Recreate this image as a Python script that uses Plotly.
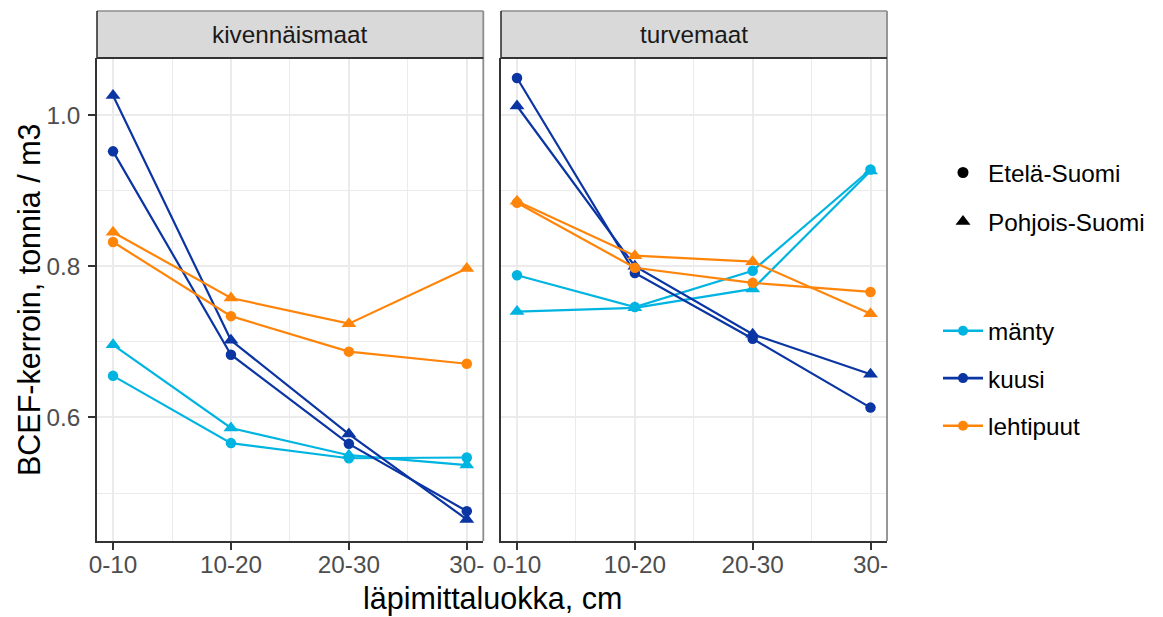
import plotly.graph_objects as go
from plotly.subplots import make_subplots

# ---------------- data ----------------
categories = ["0-10", "10-20", "20-30", "30-"]
soils = ["kivennäismaat", "turvemaat"]
species = ["mänty", "kuusi", "lehtipuut"]
regions = ["Etelä-Suomi", "Pohjois-Suomi"]

# kivennäismaat
kiv_manty_etela = [0.655, 0.566, 0.546, 0.547]
kiv_manty_pohjois = [0.696, 0.586, 0.550, 0.537]
kiv_kuusi_etela = [0.952, 0.683, 0.565, 0.476]
kiv_kuusi_pohjois = [1.026, 0.702, 0.578, 0.465]
kiv_lehti_etela = [0.832, 0.734, 0.687, 0.671]
kiv_lehti_pohjois = [0.845, 0.758, 0.724, 0.797]
# turvemaat
tur_manty_etela = [0.788, 0.746, 0.794, 0.928]
tur_manty_pohjois = [0.740, 0.745, 0.770, 0.926]
tur_kuusi_etela = [1.049, 0.791, 0.704, 0.613]
tur_kuusi_pohjois = [1.012, 0.800, 0.710, 0.657]
tur_lehti_etela = [0.884, 0.798, 0.778, 0.766]
tur_lehti_pohjois = [0.886, 0.814, 0.806, 0.737]

data = {
    ("kivennäismaat", "mänty", "Etelä-Suomi"): kiv_manty_etela,
    ("kivennäismaat", "mänty", "Pohjois-Suomi"): kiv_manty_pohjois,
    ("kivennäismaat", "kuusi", "Etelä-Suomi"): kiv_kuusi_etela,
    ("kivennäismaat", "kuusi", "Pohjois-Suomi"): kiv_kuusi_pohjois,
    ("kivennäismaat", "lehtipuut", "Etelä-Suomi"): kiv_lehti_etela,
    ("kivennäismaat", "lehtipuut", "Pohjois-Suomi"): kiv_lehti_pohjois,
    ("turvemaat", "mänty", "Etelä-Suomi"): tur_manty_etela,
    ("turvemaat", "mänty", "Pohjois-Suomi"): tur_manty_pohjois,
    ("turvemaat", "kuusi", "Etelä-Suomi"): tur_kuusi_etela,
    ("turvemaat", "kuusi", "Pohjois-Suomi"): tur_kuusi_pohjois,
    ("turvemaat", "lehtipuut", "Etelä-Suomi"): tur_lehti_etela,
    ("turvemaat", "lehtipuut", "Pohjois-Suomi"): tur_lehti_pohjois,
}

colors = {"mänty": "#00B4E1", "kuusi": "#0A35A3", "lehtipuut": "#FF850A"}
symbols = {"Etelä-Suomi": "circle", "Pohjois-Suomi": "triangle-up"}
msizes = {"Etelä-Suomi": 10.5, "Pohjois-Suomi": 13}

FONT = "Liberation Sans, Arial, sans-serif"
FS = 24.3   # tick / strip / legend text
FT = 30.5   # axis titles

# page body has an 8px margin: figure origin sits at (8, 8) on screen
OFF = 8
W, H = 1163 - 2 * OFF, 617 - OFF
ML = 97 - OFF
MT = 58 - OFF
PW = 790
PH = 483
MR = W - ML - PW
MB = H - MT - PH


def sx(px):  # screen x pixel -> paper
    return (px - OFF - ML) / PW


def sy(py):  # screen y pixel -> paper
    return (MT + PH - (py - OFF)) / PH


fig = make_subplots(rows=1, cols=2, shared_yaxes=True, horizontal_spacing=0.02)

xpos = list(range(len(categories)))
for ci, soil in enumerate(soils):
    for sp in species:
        for rg in regions:
            fig.add_trace(
                go.Scatter(
                    x=xpos,
                    y=data[(soil, sp, rg)],
                    mode="lines+markers",
                    line=dict(color=colors[sp], width=2.2),
                    marker=dict(symbol=symbols[rg], size=msizes[rg], color=colors[sp]),
                    showlegend=False,
                    name=f"{sp} {rg}",
                ),
                row=1, col=ci + 1,
            )

# legend entries (one small legend per entry, to match spacing)
legend_names = ["legend", "legend2", "legend3", "legend4", "legend5"]
entries = [
    ("Etelä-Suomi", "markers", "black", "circle", 11),
    ("Pohjois-Suomi", "markers", "black", "triangle-up", 13),
    ("mänty", "lines+markers", colors["mänty"], "circle", 10),
    ("kuusi", "lines+markers", colors["kuusi"], "circle", 10),
    ("lehtipuut", "lines+markers", colors["lehtipuut"], "circle", 10),
]
for (nm, mode, col, sym, sz), lg in zip(entries, legend_names):
    fig.add_trace(
        go.Scatter(
            x=[None], y=[None], mode=mode, name=nm,
            line=dict(color=col, width=2.6),
            marker=dict(symbol=sym, size=sz, color=col),
            showlegend=True, legend=lg,
        ),
        row=1, col=1,
    )

legend_centers = [172.7, 221.7, 331, 378.3, 426]
leg_left_px = 938
for lg, yc in zip(legend_names, legend_centers):
    fig.update_layout({
        lg: dict(
            x=sx(leg_left_px), xanchor="left",
            y=sy(yc), yanchor="middle",
            bgcolor="rgba(0,0,0,0)", borderwidth=0,
            font=dict(family=FONT, size=FS, color="black"),
            itemwidth=40,
        )
    })

grid = "#EBEBEB"
dark = "#333333"
common_x = dict(
    range=[-0.136, 3.14],
    tickmode="array", tickvals=xpos, ticktext=categories,
    showgrid=True, gridcolor=grid, gridwidth=1.8,
    minor=dict(tickvals=[0.5, 1.5, 2.5], showgrid=True, gridcolor=grid, gridwidth=1.1),
    ticks="outside", ticklen=7, tickwidth=2, tickcolor=dark,
    showline=True, linecolor=dark, linewidth=1.6,
    zeroline=False, automargin=False,
    tickfont=dict(family=FONT, size=FS, color="#4D4D4D"),
)
fig.update_xaxes(**common_x)
try:
    fig.update_xaxes(ticklabelstandoff=-6)
except Exception:
    pass
fig.update_layout(
    xaxis=dict(domain=[0, (483.3 - 97) / PW]),
    xaxis2=dict(domain=[(501 - 97) / PW, 1]),
)
yt = [0.6, 0.8, 1.0]
fig.update_yaxes(
    range=[0.4365, 1.0755],
    tickmode="array", tickvals=yt, ticktext=[f"{v:.1f}" for v in yt],
    showgrid=True, gridcolor=grid, gridwidth=1.8,
    minor=dict(tickvals=[0.5, 0.7, 0.9], showgrid=True, gridcolor=grid, gridwidth=1.1),
    showline=True, linecolor=dark, linewidth=1.6,
    zeroline=False, automargin=False,
    tickfont=dict(family=FONT, size=FS, color="#4D4D4D"),
)
fig.update_yaxes(ticks="outside", ticklen=7, tickwidth=2, tickcolor=dark,
                 ticklabelstandoff=3, row=1, col=1)
fig.update_yaxes(ticks="", showticklabels=False, row=1, col=2)

# panel borders (top/right) and strips
strip_h = 47 / PH
shapes = []
annotations = []
for xr, yr, soil in [("x domain", "y domain", soils[0]), ("x2 domain", "y2 domain", soils[1])]:
    shapes.append(dict(type="rect", xref=xr, yref=yr, x0=0, x1=1, y0=1, y1=1 + strip_h,
                       fillcolor="#D9D9D9", line=dict(width=0), layer="below"))
    shapes.append(dict(type="line", xref=xr, yref=yr, x0=0, x1=1, y0=1 + strip_h, y1=1 + strip_h,
                       line=dict(color="#8C8C8C", width=1.6)))
    shapes.append(dict(type="line", xref=xr, yref=yr, x0=0, x1=0, y0=1, y1=1 + strip_h,
                       line=dict(color=dark, width=1.6)))
    shapes.append(dict(type="line", xref=xr, yref=yr, x0=1, x1=1, y0=0, y1=1 + strip_h,
                       line=dict(color="#8C8C8C", width=1.8)))
    shapes.append(dict(type="line", xref=xr, yref=yr, x0=0, x1=1, y0=1, y1=1,
                       line=dict(color=dark, width=2)))
    annotations.append(dict(xref=xr, yref=yr, x=0.5, y=1 + strip_h / 2, text=soil, showarrow=False,
                            xanchor="center", yanchor="middle",
                            font=dict(family=FONT, size=FS, color="#1A1A1A")))

annotations.append(dict(xref="paper", yref="paper", x=sx(492), y=sy(598),
                        text="läpimittaluokka, cm", showarrow=False, xanchor="center", yanchor="middle",
                        font=dict(family=FONT, size=FT, color="black")))
annotations.append(dict(xref="paper", yref="paper", x=sx(29), y=sy(300),
                        text="BCEF-kerroin, tonnia / m3", showarrow=False, textangle=-90,
                        xanchor="center", yanchor="middle",
                        font=dict(family=FONT, size=FT, color="black")))

fig.update_layout(
    width=W, height=H,
    margin=dict(l=ML, r=MR, t=MT, b=MB, pad=0, autoexpand=False),
    paper_bgcolor="white", plot_bgcolor="white",
    shapes=shapes, annotations=annotations,
    font=dict(family=FONT),
)

fig.write_html("out.html")
